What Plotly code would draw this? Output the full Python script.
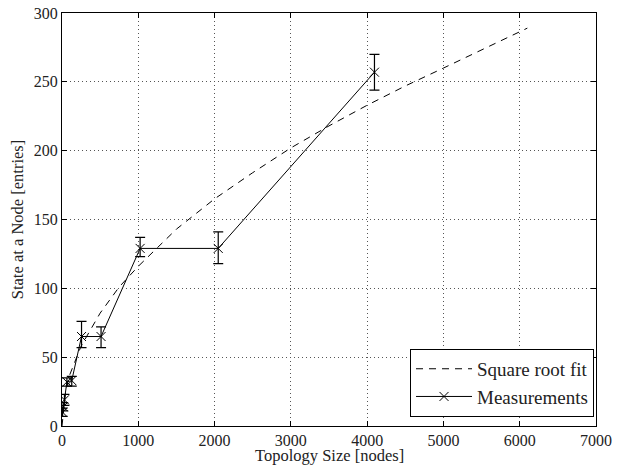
import plotly.graph_objects as go

# Measurements
meas_x = [8, 16, 32, 64, 128, 256, 512, 1024, 2048, 4096]
meas_y = [10, 14, 19, 32, 33, 65, 65, 129, 129, 257]
err_plus = [3, 3, 4, 3, 3, 11, 7, 8, 12, 13]
err_minus = [3, 3, 4, 3, 4, 8, 8, 6, 11, 13]

# Square root fit
fit_x = [0, 50, 100, 250, 500, 750, 1000, 1500, 2000, 2500, 3000, 3500, 4000, 4500, 5000, 5500, 6100]
fit_y = [0, 26, 37, 58, 82, 101, 116, 143, 165, 184, 202, 218, 233, 247, 260, 273, 289]

xticks = [0, 1000, 2000, 3000, 4000, 5000, 6000, 7000]
yticks = [0, 50, 100, 150, 200, 250, 300]

fig = go.Figure()
fig.add_trace(go.Scatter(x=fit_x, y=fit_y, mode="lines", name="Square root fit",
                         line=dict(color="black", width=1, dash="7px,6px")))
fig.add_trace(go.Scatter(x=meas_x, y=meas_y, mode="lines+markers", name="Measurements",
                         line=dict(color="black", width=1),
                         marker=dict(symbol="x-thin", size=9, color="black",
                                     line=dict(color="black", width=1)),
                         error_y=dict(type="data", array=err_plus, arrayminus=err_minus,
                                      color="black", thickness=1.2, width=5)))

fam = "Liberation Serif, Times New Roman, serif"
tickfnt = dict(family=fam, size=16, color="#222222")
titlefnt = dict(family=fam, size=16.5, color="#222222")
axis_common = dict(showline=True, linecolor="black", linewidth=1, mirror="ticks",
                   ticks="inside", ticklen=5, tickcolor="black",
                   showgrid=True, gridcolor="#555555", griddash="1px,3px", gridwidth=1,
                   zeroline=False, tickfont=tickfnt, automargin=False,
                   ticklabeloverflow="allow")
fig.update_layout(
    width=631, height=466,
    margin=dict(l=62, r=35, t=13, b=40),
    paper_bgcolor="white", plot_bgcolor="white",
    font=titlefnt,
    xaxis=dict(range=[0, 7000], tickvals=xticks, ticktext=[str(v) for v in xticks],
               **axis_common),
    yaxis=dict(range=[0, 300], tickvals=yticks, ticktext=[str(v) for v in yticks],
               title=dict(text="State at a Node [entries]", font=titlefnt, standoff=6), **axis_common),
    legend=dict(x=0.9963, y=0.022, xanchor="right", yanchor="bottom", bgcolor="white",
                bordercolor="black", borderwidth=1,
                font=dict(family=fam, size=19, color="#222222"),
                traceorder="normal", itemwidth=56),
    showlegend=True,
    annotations=[dict(text="Topology Size [nodes]", xref="paper", yref="paper",
                      x=0.5, y=-0.096, xanchor="center", yanchor="bottom",
                      showarrow=False, font=titlefnt, borderpad=0)],
)
fig.write_html("out.html", config={"displayModeBar": False},
               post_script="document.body.style.margin='0';")
